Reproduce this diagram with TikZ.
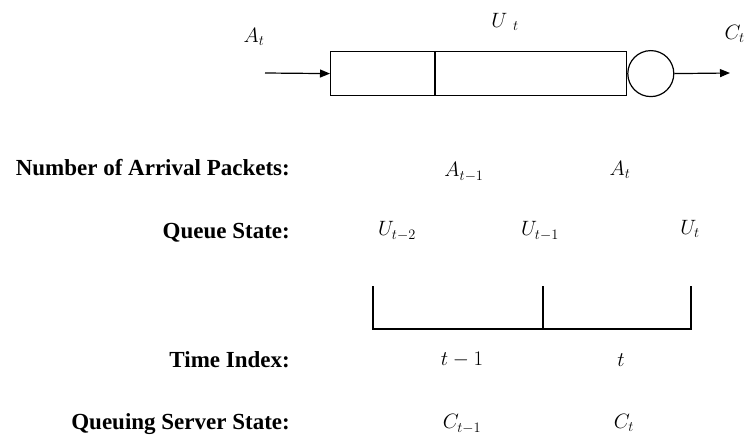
\documentclass[tikz,border=0pt]{standalone}
\usepackage{fontspec}
\setmainfont{Liberation Serif}
\usetikzlibrary{arrows.meta, positioning, calc}

\begin{document}
\begin{tikzpicture}[
    x=1pt, y=-1pt,
    rowlabel/.style={anchor=east, inner sep=0pt, font=\fontsize{23}{27}\selectfont\bfseries},
    val/.style={inner sep=0pt, font=\fontsize{21}{25}\selectfont},
    edge/.style={line width=1.2pt},
    arrow/.style={-{Triangle[length=10pt, width=8pt]}, line width=1.2pt}
]
\useasboundingbox (0,0) rectangle (746,444);
% queue and server
\node[draw, edge, minimum width=296pt, minimum height=44pt, inner sep=0pt, anchor=north west] (queue) at (330,51) {};
\draw[edge] ([xshift=105pt]queue.north west) -- ([xshift=105pt]queue.south west);
\node[draw, edge, circle, minimum size=46pt, inner sep=0pt, right=0pt of queue] (server) {};
\coordinate (in) at (265,73);
\coordinate (out) at (730,73);
\draw[arrow] (in) -- (queue.west);
\draw[arrow] (server.east) -- (out);
\node[val] (arrin) at (254,37) {$A_t$};
\node[val] (qlen) at (505,22) {$U_{\;\;t}$};
\node[val, anchor=east] (srvout) at (745,34) {$C_t$};
% rows
\node[rowlabel] (arrlbl) at (290,168) {Number of Arrival Packets:};
\node[val] (a1) at (464,172) {$A_{t-1}$};
\node[val] (a2) at (620,170) {$A_t$};
\node[rowlabel] (qlbl) at (290,233) {Queue State:};
\node[val] (u0) at (397,231) {$U_{t-2}$};
\node[val] (u1) at (540,231) {$U_{t-1}$};
\node[val] (u2) at (690,229) {$U_t$};
% time axis
\coordinate (b1) at (373,286);
\coordinate (b2) at (543,286);
\coordinate (b3) at (691,286);
\draw[edge] (b1) -- ++(0,43) -| (b3);
\draw[edge] (b2) -- ++(0,43);
\node[rowlabel] (tlbl) at (290,360) {Time Index:};
\node[val] (t1) at (462,360) {$t-1$};
\node[val] (t2) at (621,360) {$t$};
\node[rowlabel] (slbl) at (290,424) {Queuing Server State:};
\node[val] (c1) at (462,424) {$C_{t-1}$};
\node[val] (c2) at (624,423) {$C_t$};
\end{tikzpicture}
\end{document}
